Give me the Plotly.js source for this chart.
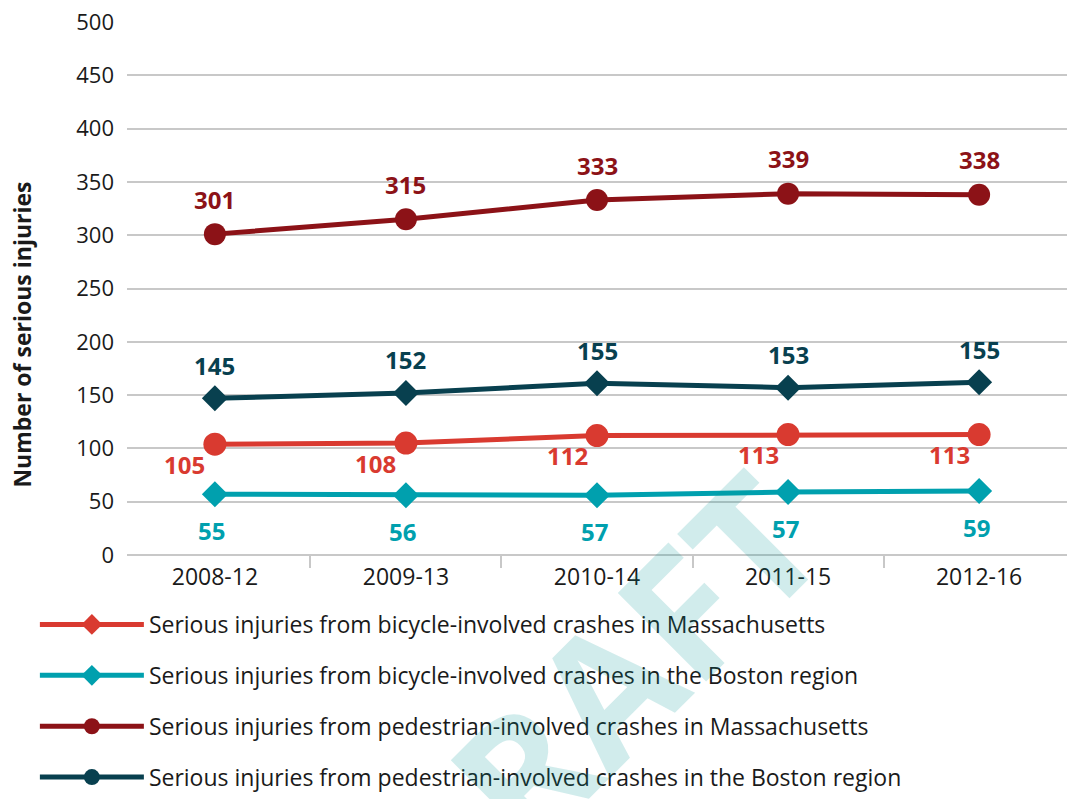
<!DOCTYPE html>
<html>
<head>
<meta charset="utf-8">
<script src="https://cdn.plot.ly/plotly-3.0.1.min.js"></script>
<style>
  html, body { margin: 0; padding: 0; background: #fff; }
  #chart { width: 1067px; height: 799px; }
</style>
</head>
<body>
<div id="chart"></div>
<script>
// periods on the x axis
const periods = ['2008-12', '2009-13', '2010-14', '2011-15', '2012-16'];

// marker heights as drawn in the picture
const pedMA = [301, 315, 333, 339, 338];
const pedBoston = [147, 152, 161, 157, 162];
const bikeMA = [104, 105, 112, 113, 113];
const bikeBoston = [57, 56, 56, 59, 60];

// printed data labels
const pedMALabels = ['301', '315', '333', '339', '338'];
const pedBostonLabels = ['145', '152', '155', '153', '155'];
const bikeMALabels = ['105', '108', '112', '113', '113'];
const bikeBostonLabels = ['55', '56', '57', '57', '59'];

const seriesNames = [
  'Serious injuries from bicycle-involved crashes in Massachusetts',
  'Serious injuries from bicycle-involved crashes in the Boston region',
  'Serious injuries from pedestrian-involved crashes in Massachusetts',
  'Serious injuries from pedestrian-involved crashes in the Boston region'
];

const colors = {
  bikeMA: '#d93a30',
  bikeBoston: '#00a0ae',
  pedMA: '#8c1217',
  pedBoston: '#08404f'
};

const FONT = '"Open Sans", "Noto Sans", sans-serif';

function lineTrace(y, color, symbol, size) {
  return {
    x: periods,
    y: y,
    type: 'scatter',
    mode: 'lines+markers',
    line: { color: color, width: 5 },
    marker: { symbol: symbol, size: size, color: color },
    showlegend: false,
    cliponaxis: false,
    hoverinfo: 'x+y'
  };
}

// legend-only entries (the original legend uses its own symbols)
function legendTrace(name, color, symbol, group) {
  return {
    x: [null],
    y: [null],
    name: name,
    type: 'scatter',
    mode: 'lines+markers',
    line: { color: color, width: 5 },
    marker: { symbol: symbol, size: 16, color: color },
    legendgroup: group,
    showlegend: true
  };
}

const traces = [
  lineTrace(bikeBoston, colors.bikeBoston, 'diamond', 20),
  lineTrace(bikeMA, colors.bikeMA, 'circle', 23),
  lineTrace(pedBoston, colors.pedBoston, 'diamond', 20),
  lineTrace(pedMA, colors.pedMA, 'circle', 22),
  legendTrace(seriesNames[0], colors.bikeMA, 'diamond', 'a'),
  legendTrace(seriesNames[1], colors.bikeBoston, 'diamond', 'b'),
  legendTrace(seriesNames[2], colors.pedMA, 'circle', 'c'),
  legendTrace(seriesNames[3], colors.pedBoston, 'circle', 'd')
];

// data labels, offset per series
function labels(values, texts, color, xshift, yshift) {
  return values.map((v, i) => ({
    x: periods[i],
    y: v,
    xref: 'x',
    yref: 'y',
    text: texts[i],
    showarrow: false,
    xshift: xshift,
    yshift: yshift,
    font: { family: FONT, size: 24, color: color, weight: 700 }
  }));
}

const annotations = [].concat(
  labels(pedMA, pedMALabels, colors.pedMA, 0, 35),
  labels(pedBoston, pedBostonLabels, colors.pedBoston, 0, 33),
  labels(bikeMA, bikeMALabels, colors.bikeMA, -30, -20),
  labels(bikeBoston, bikeBostonLabels, colors.bikeBoston, -3, -36)
);

// y axis title (sits lower than the plot centre in the original)
annotations.push({
  xref: 'paper', yref: 'paper',
  x: -0.112, y: 0.413,
  xanchor: 'center', yanchor: 'middle',
  text: 'Number of serious injuries',
  showarrow: false,
  textangle: -90,
  font: { family: FONT, size: 23, color: '#1a1a1a', weight: 700 }
});

// DRAFT watermark
annotations.push({
  xref: 'paper', yref: 'paper',
  x: 0.49, y: -0.28,
  xanchor: 'center', yanchor: 'middle',
  text: 'DRAFT',
  showarrow: false,
  textangle: -45,
  font: { family: FONT, size: 175, color: 'rgba(0,150,150,0.18)', weight: 700 }
});

const layout = {
  width: 1067,
  height: 799,
  paper_bgcolor: '#ffffff',
  plot_bgcolor: '#ffffff',
  font: { family: FONT, size: 22, color: '#1a1a1a' },
  margin: { t: 22, b: 244, l: 127, r: 0 },
  showlegend: true,
  xaxis: {
    type: 'category',
    range: [-0.46, 4.46],
    showgrid: false,
    showline: false,
    zeroline: false,
    ticks: 'outside',
    tickson: 'boundaries',
    ticklen: 12,
    tickwidth: 2,
    tickcolor: '#c8c8c8',
    ticklabelstandoff: 6,
    tickfont: { family: FONT, size: 23, color: '#1a1a1a' },
    fixedrange: true
  },
  yaxis: {
    range: [0, 500],
    dtick: 50,
    showgrid: true,
    gridcolor: '#c8c8c8',
    gridwidth: 2,
    zeroline: true,
    zerolinecolor: '#c8c8c8',
    zerolinewidth: 2,
    showline: false,
    ticks: '',
    ticklabelstandoff: 12,
    tickfont: { family: FONT, size: 22, color: '#1a1a1a' },
    automargin: false,
    fixedrange: true
  },
  legend: {
    x: -0.098,
    xanchor: 'left',
    y: -0.09,
    yanchor: 'top',
    orientation: 'v',
    traceorder: 'grouped',
    tracegroupgap: 18,
    itemwidth: 104,
    bgcolor: 'rgba(0,0,0,0)',
    font: { family: FONT, size: 23, color: '#1a1a1a' }
  },
  annotations: annotations,
  hovermode: 'closest'
};

Plotly.newPlot('chart', traces, layout, { displayModeBar: false, responsive: false });
</script>
</body>
</html>
